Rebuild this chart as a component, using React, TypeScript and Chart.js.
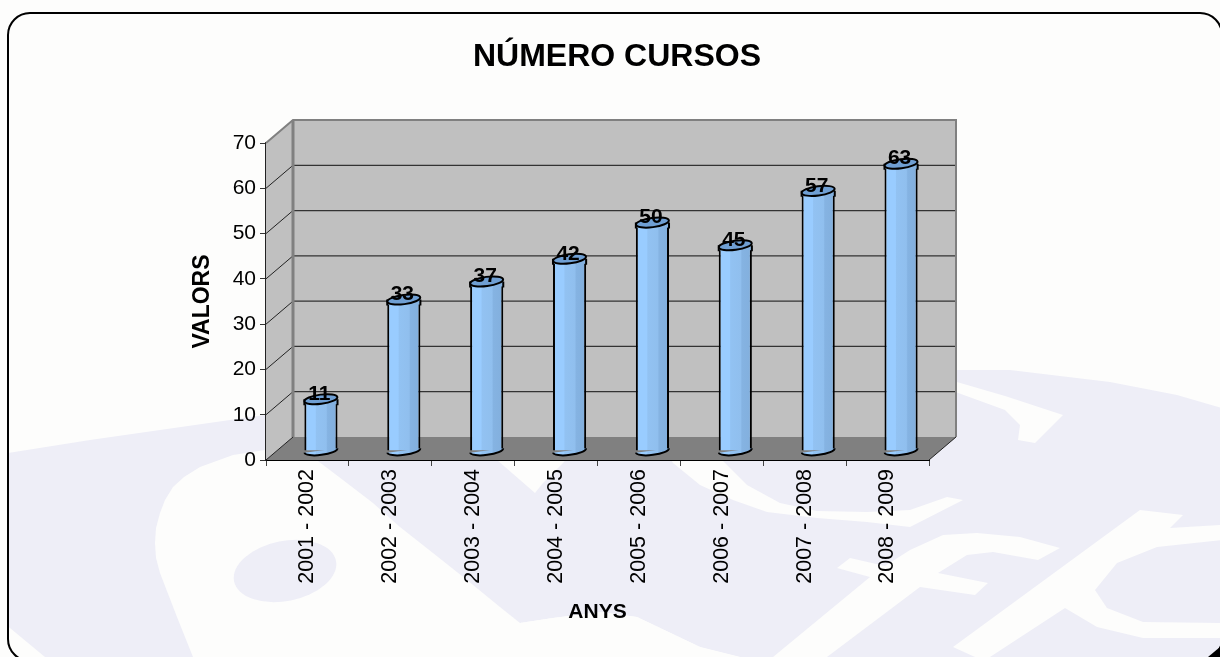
import React, { useEffect, useRef } from "react";
import { Chart, registerables } from "chart.js";

Chart.register(...registerables);

const categories = [
  "2001 - 2002",
  "2002 - 2003",
  "2003 - 2004",
  "2004 - 2005",
  "2005 - 2006",
  "2006 - 2007",
  "2007 - 2008",
  "2008 - 2009",
];
const cursos = [11, 33, 37, 42, 50, 45, 57, 63];
const chartTitle = "NÚMERO CURSOS";
const xTitle = "ANYS";
const yTitle = "VALORS";

const FONT = "'Liberation Sans', Arial, sans-serif";
const PAPER = "#fdfdfc";
const LAV = "#eeeef7";
const DEPTH_X = 27;
const DEPTH_Y = -23;
const BAR_DX = 13.5;
const BAR_DY = -9;
const BAR_SHARE = 0.4;

type Pt = [number, number];
const lavenderMain: Pt[] = [
  [8, 453], [90, 440], [265, 415], [600, 385], [958, 370], [1010, 370], [1110, 382], [1177, 395], [1222, 408],
  [1222, 657], [740, 657], [700, 647], [637, 617], [600, 612], [553, 618], [520, 623],
  [193, 657], [8, 657],
];
const whiteSwoosh: Pt[] = [
  [300, 445], [265, 450], [233, 455], [200, 467], [184, 477], [173, 487], [165, 500], [160, 513], [156, 528], [155, 543], [156, 558], [160, 573], [177, 617], [193, 657],
  [740, 657], [700, 647], [637, 617], [600, 612], [553, 618], [520, 623],
  [500, 607], [467, 580], [433, 553], [400, 527], [373, 503], [343, 480], [310, 455],
];
const whiteCorner: Pt[] = [[6, 625], [10, 628], [45, 657], [6, 657]];
const whiteWedge: Pt[] = [[490, 450], [497, 460], [535, 493], [543, 483], [563, 463], [575, 450]];
const whiteHook: Pt[] = [
  [950, 380], [1005, 396], [1063, 415], [1035, 443], [1018, 440], [1020, 425], [1005, 410], [950, 390],
];
const whiteBand: Pt[] = [
  [665, 450], [717, 455], [747, 485], [780, 503], [817, 511], [867, 512], [910, 510], [947, 497], [963, 500],
  [910, 527], [867, 522], [817, 518], [767, 512], [733, 500], [700, 485], [673, 463],
];
const whiteF: Pt[] = [
  [773, 657], [870, 577], [837, 568], [850, 558], [885, 566], [910, 550], [943, 535], [977, 533], [1020, 537], [1060, 548],
  [1038, 560], [993, 552], [967, 555], [938, 573], [988, 583], [975, 595], [920, 587], [827, 657],
];
const whiteC: Pt[] = [
  [953, 647], [1140, 510], [1183, 515], [1170, 528], [1222, 525], [1222, 540], [1157, 547], [1117, 563], [1095, 590],
  [1107, 608], [1143, 622], [1222, 623], [1222, 638], [1143, 638], [1097, 627], [1065, 608], [990, 657], [975, 657],
];
const blackCorner: Pt[] = [[1220, 647], [1220, 657], [1208, 657]];

function poly(ctx: CanvasRenderingContext2D, pts: Pt[], color: string) {
  ctx.beginPath();
  pts.forEach((p, i) => (i ? ctx.lineTo(p[0], p[1]) : ctx.moveTo(p[0], p[1])));
  ctx.closePath();
  ctx.fillStyle = color;
  ctx.fill();
}

const pagePlugin = {
  id: "page",
  beforeDraw(chart: any) {
    const { ctx, width, height } = chart;
    ctx.save();
    ctx.fillStyle = PAPER;
    ctx.fillRect(0, 0, width, height);
    poly(ctx, lavenderMain, LAV);
    [whiteSwoosh, whiteCorner, whiteWedge, whiteHook, whiteBand, whiteF, whiteC].forEach((s) => poly(ctx, s, PAPER));
    ctx.fillStyle = LAV;
    ctx.beginPath();
    ctx.ellipse(285, 571, 52, 30, -0.2, 0, Math.PI * 2);
    ctx.fill();
    ctx.strokeStyle = "#000";
    ctx.lineWidth = 2;
    ctx.beginPath();
    ctx.roundRect(8, 13, 1214, 648, 22);
    ctx.stroke();
    poly(ctx, blackCorner, "#000");
    ctx.restore();
  },
};

const wallsPlugin = {
  id: "walls",
  beforeDatasetsDraw(chart: any) {
    const { ctx, chartArea: a, scales } = chart;
    const y = scales.y;
    const top = y.getPixelForValue(70);
    const bot = y.getPixelForValue(0);
    const dx = DEPTH_X;
    const dy = DEPTH_Y;
    ctx.save();
    ctx.fillStyle = "#c0c0c0";
    ctx.fillRect(a.left + dx, top + dy, a.right - a.left, bot - top);
    ctx.beginPath();
    ctx.moveTo(a.left, top);
    ctx.lineTo(a.left + dx, top + dy);
    ctx.lineTo(a.left + dx, bot + dy);
    ctx.lineTo(a.left, bot);
    ctx.closePath();
    ctx.fill();
    ctx.fillStyle = "#808080";
    ctx.beginPath();
    ctx.moveTo(a.left, bot);
    ctx.lineTo(a.left + dx, bot + dy);
    ctx.lineTo(a.right + dx, bot + dy);
    ctx.lineTo(a.right, bot);
    ctx.closePath();
    ctx.fill();
    for (let v = 10; v <= 60; v += 10) {
      const p = y.getPixelForValue(v);
      ctx.strokeStyle = "#222";
      ctx.lineWidth = 1;
      ctx.beginPath();
      ctx.moveTo(a.left, p);
      ctx.lineTo(a.left + dx, p + dy);
      ctx.stroke();
      ctx.strokeStyle = "#333";
      ctx.lineWidth = 1.3;
      ctx.beginPath();
      ctx.moveTo(a.left + dx, p + dy);
      ctx.lineTo(a.right + dx, p + dy);
      ctx.stroke();
    }
    ctx.strokeStyle = "#808080";
    ctx.lineWidth = 2;
    ctx.beginPath();
    ctx.moveTo(a.left, top);
    ctx.lineTo(a.left + dx, top + dy);
    ctx.lineTo(a.right + dx, top + dy);
    ctx.lineTo(a.right + dx, bot + dy);
    ctx.stroke();
    ctx.lineWidth = 3;
    ctx.beginPath();
    ctx.moveTo(a.left + dx, top + dy);
    ctx.lineTo(a.left + dx, bot + dy);
    ctx.stroke();
    ctx.strokeStyle = "#222";
    ctx.lineWidth = 1;
    ctx.beginPath();
    ctx.moveTo(a.left, bot);
    ctx.lineTo(a.left + dx, bot + dy);
    ctx.moveTo(a.right, bot);
    ctx.lineTo(a.right + dx, bot + dy);
    ctx.stroke();
    ctx.restore();

    ctx.save();
    ctx.translate(BAR_DX, BAR_DY);
  },
  afterDatasetsDraw(chart: any) {
    const { ctx } = chart;
    const meta = chart.getDatasetMeta(0);
    const TILT = -0.13;
    meta.data.forEach((el: any, i: number) => {
      const half = el.width / 2;
      const fill = barGradient(ctx, el.x - half, el.x + half);
      ctx.beginPath();
      ctx.ellipse(el.x, el.base, half, 4.4, TILT, 0, Math.PI);
      ctx.fillStyle = fill;
      ctx.fill();
      ctx.strokeStyle = "#000";
      ctx.lineWidth = 2;
      ctx.stroke();
      const capY = el.y - 2;
      ctx.fillStyle = fill;
      ctx.fillRect(el.x - half, capY, el.width, 5);
      ctx.beginPath();
      ctx.moveTo(el.x - half, capY + 6);
      ctx.lineTo(el.x - half, capY);
      ctx.moveTo(el.x + half, capY + 6);
      ctx.lineTo(el.x + half, capY);
      ctx.lineWidth = 2;
      ctx.stroke();
      ctx.beginPath();
      ctx.ellipse(el.x, capY, half, 4.6, TILT, 0, Math.PI * 2);
      ctx.fillStyle = "#6f9fd3";
      ctx.fill();
      ctx.lineWidth = 2;
      ctx.stroke();
      ctx.fillStyle = "#000";
      ctx.font = `bold 21px ${FONT}`;
      ctx.textAlign = "center";
      ctx.textBaseline = "middle";
      ctx.fillText(String(cursos[i]), el.x - 1.5, capY - 5);
    });
    ctx.restore();
  },
};

function barGradient(ctx: CanvasRenderingContext2D, x0: number, x1: number) {
  const g = ctx.createLinearGradient(x0, 0, x1, 0);
  g.addColorStop(0, "#99ccff");
  g.addColorStop(0.33, "#99ccff");
  g.addColorStop(0.36, "#92c2f2");
  g.addColorStop(0.66, "#90bfee");
  g.addColorStop(0.7, "#85b3e2");
  g.addColorStop(1, "#82afdd");
  return g;
}

export default function App() {
  const ref = useRef<HTMLCanvasElement | null>(null);
  useEffect(() => {
    document.body.style.margin = "0";
    const chart = new Chart(ref.current as HTMLCanvasElement, {
      type: "bar",
      data: {
        labels: categories,
        datasets: [
          {
            label: "Cursos",
            data: cursos,
            yAxisID: "y",
            barPercentage: BAR_SHARE,
            categoryPercentage: 1,
            borderColor: "#000",
            borderWidth: { left: 2, right: 2, top: 0, bottom: 0 },
            borderSkipped: false,
            backgroundColor: (c: any) => {
              const sx = c.chart.scales.x;
              if (!sx || c.dataIndex === undefined) return "#92c2f2";
              const cx = sx.getPixelForValue(c.dataIndex);
              const half = (sx.width / categories.length) * BAR_SHARE * 0.5;
              if (!Number.isFinite(cx) || !Number.isFinite(half)) return "#92c2f2";
              return barGradient(c.chart.ctx, cx - half, cx + half);
            },
          },
        ],
      },
      options: {
        responsive: false,
        animation: false,
        layout: { autoPadding: false, padding: { left: 14, right: 0, top: 0, bottom: 0 } },
        plugins: {
          legend: { display: false },
          tooltip: { enabled: false },
          title: {
            display: true,
            text: chartTitle,
            color: "#000",
            font: { family: FONT, size: 32, weight: "bold", lineHeight: 1.2 },
            padding: { top: 38, bottom: 66.6 },
          },
        },
        scales: {
          x: {
            grid: { drawOnChartArea: false, drawTicks: true, tickLength: 6, tickColor: "#444", offset: true },
            border: { color: "#000", width: 2 },
            ticks: {
              autoSkip: false,
              minRotation: 90,
              maxRotation: 90,
              padding: 3,
              color: "#000",
              font: { family: FONT, size: 21.5 },
            },
            title: {
              display: true,
              text: xTitle,
              color: "#000",
              font: { family: FONT, size: 21, weight: "bold", lineHeight: 1.2 },
              padding: { top: 0, bottom: 32 },
            },
            afterFit: (s: any) => {
              s.height = 197;
            },
          },
          y: {
            min: 0,
            max: 70,
            grid: { drawOnChartArea: false, tickLength: 6, tickColor: "#333" },
            border: { color: "#222", width: 1.5 },
            ticks: {
              stepSize: 10,
              padding: 4,
              color: "#000",
              font: { family: FONT, size: 21 },
            },
            title: {
              display: true,
              text: yTitle,
              color: "#000",
              font: { family: FONT, size: 23, weight: "bold", lineHeight: 1.2 },
              padding: { top: 174.5, bottom: 0 },
            },
            afterFit: (s: any) => {
              s.width = 252;
            },
          },
          spacer: {
            type: "linear",
            position: "right",
            display: true,
            grid: { display: false },
            border: { display: false },
            ticks: { display: false },
            afterFit: (s: any) => {
              s.width = 291;
            },
          },
        },
      },
      plugins: [pagePlugin, wallsPlugin],
    } as any);
    return () => chart.destroy();
  }, []);
  return <canvas ref={ref} width={1220} height={657} style={{ display: "block" }} />;
}
